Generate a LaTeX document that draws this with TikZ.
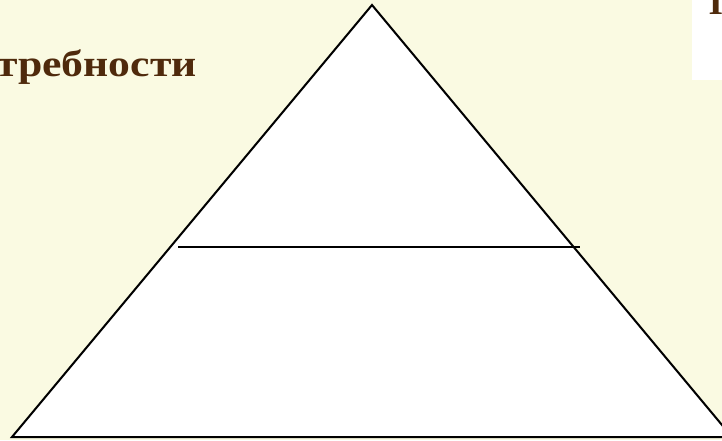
\documentclass[tikz,border=0pt]{standalone}
\usepackage{fontspec}
\setmainfont{Liberation Serif}
\usepackage{xcolor}
\usepackage{tikz}
\usetikzlibrary{positioning}
\definecolor{slideBg}{HTML}{FAFAE2}
\definecolor{slideBrown}{HTML}{4F2A0C}
\tikzset{
    pyramidEdge/.style={
        draw=black,
        line width=1.5pt,
        fill=white,
        line join=miter
    },
    levelLine/.style={
        draw=black,
        line width=1.1pt
    },
    slideTitle/.style={
        text=slideBrown,
        font=\fontsize{28}{32}\selectfont\bfseries,
        inner sep=0pt
    }
}

\begin{document}
\begin{tikzpicture}[x=0.75pt,y=-0.75pt]
        \useasboundingbox (0,0) rectangle (722,440);
        \fill[slideBg] (0,0) rectangle (722,440);
        \fill[white] (692,0) rectangle (722,80);

        \coordinate (apex) at (372,5);
        \coordinate (baseLeft) at (12,437);
        \coordinate (baseRight) at (732,437);
        \coordinate (levelLeft) at (178,247);
        \coordinate (levelRight) at (580,247);

        \draw[pyramidEdge] (baseLeft) -- (apex) -- (baseRight) -- cycle;
        \draw[levelLine] (levelLeft) -- (levelRight);

        \node[slideTitle,anchor=base east] (needs) at (197,76) {\scalebox{1.17}[1]{требности}};
        \node[slideTitle,anchor=base west] (heading) at (709,14) {П};
    \end{tikzpicture}
\end{document}
